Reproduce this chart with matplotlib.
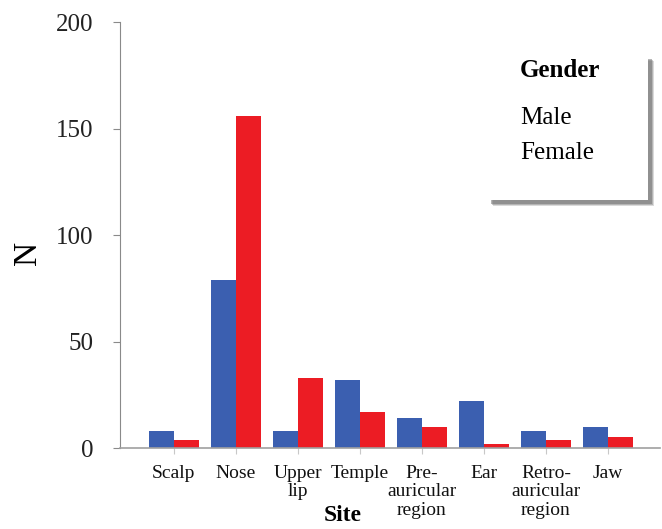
import numpy as np
import matplotlib
matplotlib.use("Agg")
import matplotlib.pyplot as plt
from matplotlib.patches import Rectangle

# data
sites = ["Scalp", "Nose", "Upper\nlip", "Temple", "Pre-\nauricular\nregion",
         "Ear", "Retro-\nauricular\nregion", "Jaw"]
male = [8, 79, 8, 32, 14, 22, 8, 10]
female = [4, 156, 33, 17, 10, 2, 4, 5]
yticks = [0, 50, 100, 150, 200]

plt.rcParams["font.family"] = ["Liberation Serif", "DejaVu Serif"]

fig = plt.figure(figsize=(6.62, 5.29), dpi=100)
ax = fig.add_axes([0.181, 0.153, 0.816, 0.805])

x = np.arange(len(sites))
width = 0.4
ax.bar(x - width / 2, male, width, color="#3b5fb0", label="Male")
ax.bar(x + width / 2, female, width, color="#ec1c24", label="Female")

ax.set_xlim(-0.87, 7.84)
ax.set_ylim(0, 200)
ax.set_yticks(yticks)
ax.set_yticklabels([str(v) for v in yticks], fontsize=18, color="#222222")
ax.set_xticks(x)
ax.set_xticklabels(sites, fontsize=14, color="#111111", linespacing=1.12)

# spines
for side in ["top", "right"]:
    ax.spines[side].set_visible(False)
ax.spines["left"].set_color("#8a8a8a")
ax.spines["bottom"].set_color("#a0a0a0")
ax.spines["bottom"].set_linewidth(1.2)
ax.tick_params(axis="y", length=5, color="#8a8a8a", pad=14)
ax.tick_params(axis="x", length=4, color="#c8c8c8", pad=8)

# axis titles placed like the original (Site sits left of centre)
fig.text(0.042, 0.522, "N", fontsize=24, rotation=90, ha="center", va="center")
fig.text(0.517, 0.006, "Site", fontsize=17, fontweight="bold",
         ha="center", va="bottom")

# legend box with soft drop shadow (no swatches in the original)
tr = ax.transAxes
bx, by, bw, bh = 0.68, 0.582, 0.298, 0.34
for k, a in [(3, 0.25), (2, 0.35), (1, 0.5)]:
    ax.add_patch(Rectangle((bx + 0.0025 * k + 0.004, by - 0.003 * k - 0.005),
                           bw, bh, transform=tr, facecolor="#6e6e6e",
                           edgecolor="none", alpha=a, zorder=4))
ax.add_patch(Rectangle((bx, by), bw, bh, transform=tr,
                       facecolor="white", edgecolor="none", zorder=5))
ax.text(0.741, 0.887, "Gender", transform=tr, fontsize=18, fontweight="bold",
        va="center", ha="left", zorder=6)
ax.text(0.741, 0.775, "Male", transform=tr, fontsize=18,
        va="center", ha="left", zorder=6)
ax.text(0.741, 0.692, "Female", transform=tr, fontsize=18,
        va="center", ha="left", zorder=6)

fig.savefig("out.png", dpi=100)
